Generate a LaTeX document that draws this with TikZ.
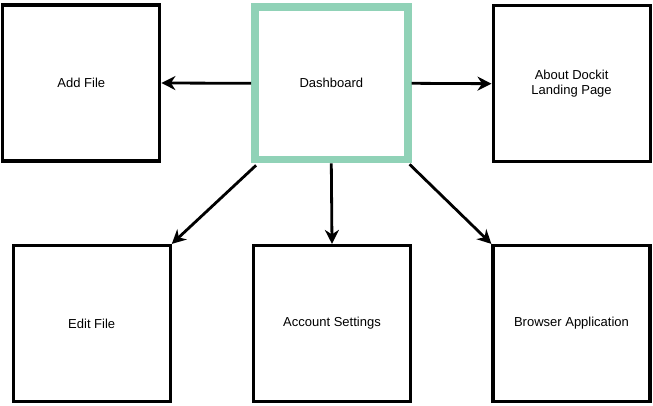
\documentclass[tikz,border=0pt]{standalone}
\usepackage{fontspec}
\setmainfont{Liberation Sans}
\usetikzlibrary{arrows.meta}
\definecolor{dashgreen}{RGB}{144,210,183}
\begin{document}
\begin{tikzpicture}[x=1pt,y=-1pt,
  box/.style={draw=black,line width=3.2pt,fill=white,minimum width=157pt,minimum height=156pt,inner sep=0pt,align=center,font=\fontsize{13}{15.5}\selectfont},
  mainbox/.style={box,draw=dashgreen,line width=7.5pt,minimum width=153pt,minimum height=152.5pt},
  conn/.style={line width=2.8pt,-{Stealth[length=14pt,width=14pt,inset=4.5pt]}}]
\useasboundingbox (0,0) rectangle (653,405);
\node[box] (add) at (81.3,83) {Add File};
\node[mainbox] (dash) at (331.3,83.3) {Dashboard};
\node[box] (about) at (571.6,83.7) {About Dockit\\Landing Page};
\node[box] (edit) at (91.7,323.5) {Edit File};
\node[box] (acct) at (332,323.5) {Account Settings};
\node[box] (browser) at (571.5,323.5) {Browser Application};
\draw[conn] (dash.west) -- (add.east);
\draw[conn] (dash.east) -- (about.west);
\draw[conn] (dash.south) -- (acct.north);
\draw[conn] ([shift={(5pt,-2pt)}]dash.south west) -- (edit.north east);
\draw[conn] ([shift={(-2pt,-1pt)}]dash.south east) -- (browser.north west);
\end{tikzpicture}
\end{document}
